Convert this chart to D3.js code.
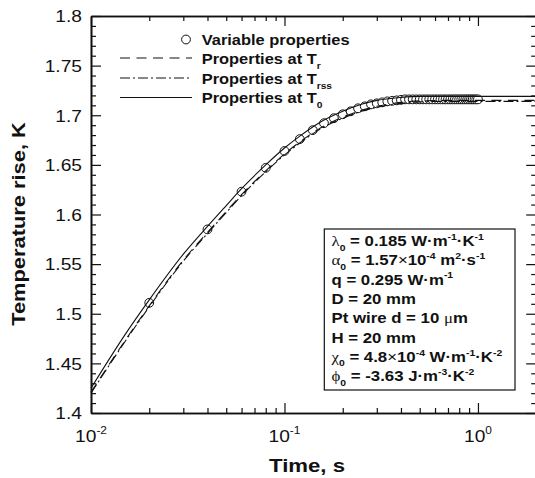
<!DOCTYPE html>
<html>
<head>
<meta charset="utf-8">
<script src="https://cdn.jsdelivr.net/npm/d3@7"></script>
<style>
body { margin: 0; background: #fff; }
text { font-family: "Liberation Sans", Arial, sans-serif; fill: #111; }
</style>
</head>
<body>
<svg id="chart" width="535" height="478"></svg>
<script>
// line series, sampled in time (s)
var lineTimes = [0.01, 0.015, 0.02, 0.03, 0.04, 0.05, 0.06, 0.08, 0.1, 0.12, 0.15, 0.2, 0.25, 0.3, 0.4, 0.5, 0.7, 1.0, 1.5, 2.0];
var propsT0   = [1.425, 1.479, 1.514, 1.560, 1.588, 1.609, 1.626, 1.650, 1.667, 1.679, 1.692, 1.704, 1.711, 1.715, 1.718, 1.719, 1.719, 1.719, 1.719, 1.719];
var propsTr   = [1.421, 1.473, 1.508, 1.554, 1.582, 1.603, 1.620, 1.644, 1.661, 1.673, 1.686, 1.698, 1.705, 1.709, 1.713, 1.7145, 1.715, 1.715, 1.715, 1.715];
var propsTrss = [1.420, 1.472, 1.507, 1.553, 1.581, 1.602, 1.619, 1.643, 1.660, 1.672, 1.685, 1.697, 1.704, 1.708, 1.712, 1.7135, 1.714, 1.714, 1.714, 1.714];

// variable properties (circles)
var circleTimes = [0.02, 0.04, 0.06, 0.08, 0.10, 0.12, 0.14, 0.16, 0.18, 0.20,
  0.22, 0.24, 0.26, 0.28, 0.30, 0.32, 0.34, 0.36, 0.38, 0.40,
  0.42, 0.44, 0.46, 0.48, 0.50, 0.52, 0.54, 0.56, 0.58, 0.60,
  0.62, 0.64, 0.66, 0.68, 0.70, 0.72, 0.74, 0.76, 0.78, 0.80,
  0.82, 0.84, 0.86, 0.88, 0.90, 0.92, 0.94, 0.96, 0.98, 1.00];
var varProps = [1.511, 1.585, 1.623, 1.647, 1.664, 1.676, 1.685, 1.692, 1.697, 1.701,
  1.704, 1.707, 1.709, 1.711, 1.712, 1.713, 1.714, 1.7145, 1.715, 1.7155,
  1.716, 1.716, 1.716, 1.716, 1.716, 1.716, 1.716, 1.716, 1.716, 1.716,
  1.716, 1.716, 1.716, 1.716, 1.716, 1.716, 1.716, 1.716, 1.716, 1.716,
  1.716, 1.716, 1.716, 1.716, 1.716, 1.716, 1.716, 1.716, 1.716, 1.716];

var yMajor = [1.4, 1.45, 1.5, 1.55, 1.6, 1.65, 1.7, 1.75, 1.8];
var yMinor = [1.41, 1.42, 1.43, 1.44, 1.46, 1.47, 1.48, 1.49, 1.51, 1.52, 1.53, 1.54,
  1.56, 1.57, 1.58, 1.59, 1.61, 1.62, 1.63, 1.64, 1.66, 1.67, 1.68, 1.69,
  1.71, 1.72, 1.73, 1.74, 1.76, 1.77, 1.78, 1.79];
var yLabels = ["1.4", "1.45", "1.5", "1.55", "1.6", "1.65", "1.7", "1.75", "1.8"];
var xMajor = [0.01, 0.1, 1];
var xExponents = ["-2", "-1", "0"];
var xMinor = [0.02, 0.03, 0.04, 0.05, 0.06, 0.07, 0.08, 0.09,
  0.2, 0.3, 0.4, 0.5, 0.6, 0.7, 0.8, 0.9, 2];

var legendNames = ["Variable properties", "Properties at T", "Properties at T", "Properties at T"];
var legendSubs = ["", "r", "rss", "0"];

var svg = d3.select("#chart");

var x = d3.scaleLog().domain([0.01, 2]).range([91, 536.2]);
var y = d3.scaleLinear().domain([1.4, 1.8]).range([413, 16]);

// text helper: parts are strings or {t, sub, sup, f, w}
function label(parent, px, py, parts, o) {
  var tr = "translate(" + px + "," + py + ")";
  if (o.rotate) tr += " rotate(" + o.rotate + ")";
  tr += " scale(" + (o.sx || 1) + ",1)";
  var t = parent.append("text")
    .attr("transform", tr)
    .attr("text-anchor", o.anchor || "start")
    .attr("font-size", o.size)
    .attr("font-weight", o.weight || "normal");
  var off = 0;
  parts.forEach(function (p) {
    var s = typeof p === "string" ? {t: p} : p;
    var target = s.sub ? o.size * (s.drop || 0.3) : s.sup ? -o.size * 0.42 : 0;
    var ts = t.append("tspan").attr("dy", target - off).text(s.t);
    if (s.sub || s.sup) ts.attr("font-size", o.size * 0.62);
    if (s.f) ts.style("font-family", s.f);
    if (s.w) ts.attr("font-weight", s.w);
    off = target;
  });
  return t;
}

// axes with inward ticks
function ticks(axis, tx, ty) {
  var g = svg.append("g").attr("transform", "translate(" + tx + "," + ty + ")").call(axis);
  g.selectAll("line").attr("stroke", "#111").attr("stroke-width", 1.2);
  g.select(".domain").attr("stroke", "#111").attr("stroke-width", 1.6);
  g.selectAll("text").remove();
  return g;
}
ticks(d3.axisLeft(y).tickValues(yMajor).tickSize(-10).tickSizeOuter(0), 91, 0);
ticks(d3.axisLeft(y).tickValues(yMinor).tickSize(-5).tickSizeOuter(0), 91, 0);
ticks(d3.axisRight(y).tickValues(yMajor).tickSize(-10).tickSizeOuter(0), 536.2, 0);
ticks(d3.axisRight(y).tickValues(yMinor).tickSize(-5).tickSizeOuter(0), 536.2, 0);
ticks(d3.axisBottom(x).tickValues(xMajor).tickSize(-10).tickSizeOuter(0), 0, 413);
ticks(d3.axisBottom(x).tickValues(xMinor).tickSize(-5).tickSizeOuter(0), 0, 413);
ticks(d3.axisTop(x).tickValues(xMajor).tickSize(-10).tickSizeOuter(0), 0, 16);
ticks(d3.axisTop(x).tickValues(xMinor).tickSize(-5).tickSizeOuter(0), 0, 16);

// tick labels
yMajor.forEach(function (v, i) {
  label(svg, 82, y(v) + 6.3, [yLabels[i]], {size: 17, sx: 1.13, anchor: "end"});
});
xMajor.forEach(function (v, i) {
  label(svg, x(v), 441.5, ["10", {t: xExponents[i], sup: true}], {size: 17, sx: 1.13, anchor: "middle"});
});

// axis titles
label(svg, 307, 471.5, ["Time, s"], {size: 18.5, sx: 1.2, anchor: "middle", weight: "bold"});
label(svg, 24.5, 224, ["Temperature rise, K"], {size: 17.5, sx: 1.25, anchor: "middle", weight: "bold", rotate: -90});

// data
var plot = svg.append("g");
plot.selectAll("circle.var")
  .data(circleTimes)
  .enter().append("circle")
  .attr("class", "var")
  .attr("cx", function (d) { return x(d); })
  .attr("cy", function (d, i) { return y(varProps[i]); })
  .attr("r", 4.4)
  .attr("fill", "#fff")
  .attr("stroke", "#111")
  .attr("stroke-width", 1);

var line = d3.line()
  .x(function (d) { return x(d[0]); })
  .y(function (d) { return y(d[1]); })
  .curve(d3.curveMonotoneX);

var series = [
  {vals: propsTr, dash: "10,6.5"},
  {vals: propsTrss, dash: "10,3,2,3"},
  {vals: propsT0, dash: null}
];
series.forEach(function (s) {
  plot.append("path")
    .datum(lineTimes.map(function (t, i) { return [t, s.vals[i]]; }))
    .attr("d", line)
    .attr("fill", "none")
    .attr("stroke", "#111")
    .attr("stroke-width", 1.1)
    .attr("stroke-dasharray", s.dash);
});

// legend
var legendY = [39.5, 58, 78, 97.5];
var legend = svg.append("g");
legend.append("circle")
  .attr("cx", 186).attr("cy", legendY[0]).attr("r", 4.4)
  .attr("fill", "#fff").attr("stroke", "#111").attr("stroke-width", 1);
series.forEach(function (s, i) {
  legend.append("line")
    .attr("x1", 120).attr("x2", 192)
    .attr("y1", legendY[i + 1]).attr("y2", legendY[i + 1])
    .attr("stroke", "#111").attr("stroke-width", 1.1)
    .attr("stroke-dasharray", s.dash);
});
legendNames.forEach(function (n, i) {
  var parts = [n];
  if (legendSubs[i]) parts.push({t: legendSubs[i], sub: true, drop: 0.35});
  label(legend, 201.7, legendY[i] + 5.5, parts, {size: 15.5, sx: 1.06, weight: "bold"});
});

// parameter box
var box = svg.append("g");
box.append("rect")
  .attr("x", 324.3).attr("y", 229).attr("width", 190.7).attr("height", 161)
  .attr("fill", "#fff").attr("stroke", "#111").attr("stroke-width", 1.2);
var sym = "'Liberation Serif', 'DejaVu Serif', serif";
var boxLines = [
  [{t: "\u03bb", f: sym, w: "normal"}, {t: "0", sub: true}, " = 0.185 W\u00b7m", {t: "-1", sup: true}, "\u00b7K", {t: "-1", sup: true}],
  [{t: "\u03b1", f: sym, w: "normal"}, {t: "0", sub: true}, " = 1.57", {t: "\u00d7", w: "normal"}, "10", {t: "-4", sup: true}, " m", {t: "2", sup: true}, "\u00b7s", {t: "-1", sup: true}],
  ["q = 0.295 W\u00b7m", {t: "-1", sup: true}],
  ["D = 20 mm"],
  ["Pt wire d = 10 ", {t: "\u03bc", f: sym, w: "normal"}, "m"],
  ["H = 20 mm"],
  [{t: "\u03c7", f: sym, w: "normal"}, {t: "0", sub: true}, " = 4.8", {t: "\u00d7", w: "normal"}, "10", {t: "-4", sup: true}, " W\u00b7m", {t: "-1", sup: true}, "\u00b7K", {t: "-2", sup: true}],
  [{t: "\u03d5", f: sym, w: "normal"}, {t: "0", sub: true}, " = -3.63 J\u00b7m", {t: "-3", sup: true}, "\u00b7K", {t: "-2", sup: true}]
];
boxLines.forEach(function (parts, i) {
  label(box, 331.5, 246 + i * 19.33, parts, {size: 15, sx: 1.12, weight: "bold"});
});
</script>
</body>
</html>
